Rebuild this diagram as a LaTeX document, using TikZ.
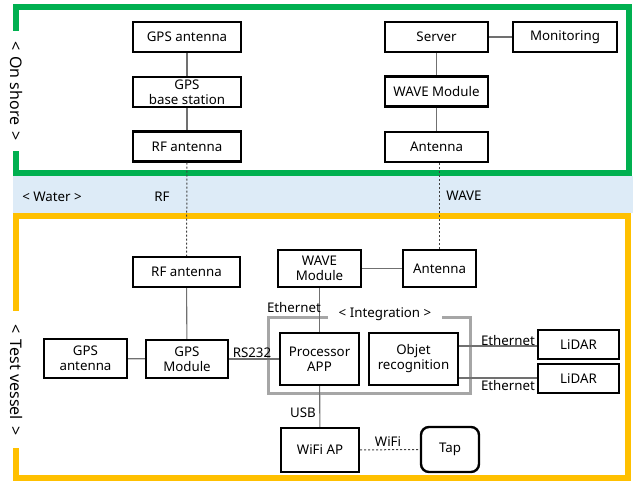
\documentclass[tikz,border=0pt]{standalone}
\usepackage{fontspec}
\setmainfont{Noto Sans}
\usetikzlibrary{positioning}
\definecolor{shoregreen}{HTML}{00B050}
\definecolor{vesselyellow}{HTML}{FFC000}
\definecolor{waterblue}{HTML}{DDEBF7}
\definecolor{linkgray}{HTML}{707070}
\definecolor{intgray}{HTML}{A6A6A6}
\tikzset{
  box/.style={draw=black, line width=2.4pt, fill=white, align=center, inner sep=0pt,
    font=\fontsize{13.3}{15}\selectfont},
  link/.style={draw=linkgray, line width=1.1pt},
  radio/.style={draw=black!75, line width=1pt, dash pattern=on 2pt off 2pt},
  lbl/.style={font=\fontsize{13.3}{15}\selectfont, inner sep=1pt},
  sidelbl/.style={font=\fontsize{16}{18}\selectfont, inner sep=1pt, rotate=-90},
}
\begin{document}
\begin{tikzpicture}[x=1pt,y=-1pt]
\useasboundingbox (0,0) rectangle (633,481);
% water band
\fill[waterblue] (13,176) rectangle (633,213);
% on shore frame
\draw[shoregreen, line width=6pt] (16,31) -- (16,7) -- (629,7) -- (629,173) -- (16,173) -- (16,151);
\node[sidelbl] (shore) at (16,91) {<\hspace{6pt}On shore\hspace{6pt}>};
% test vessel frame
\draw[vesselyellow, line width=6pt] (16,311) -- (16,216.5) -- (628,216.5) -- (628,478) -- (16,478) -- (16,448);
\node[sidelbl] (vessel) at (16,380) {<\hspace{6pt}Test vessel\hspace{6pt}>};
\node[lbl] (water) at (52,197) {< Water >};
% integration frame
\draw[intgray, line width=3pt] (328,318) -- (268,318) -- (268,394) -- (470,394) -- (470,318) -- (442,318);
\node[lbl] (integ) at (385,314) {< Integration >};

% on shore nodes
\node[box, minimum width=108pt, minimum height=30pt] (gpsant) at (187,37) {GPS antenna};
\node[box, minimum width=108pt, minimum height=30pt] (gpsbase) at (187,92) {GPS\\base station};
\node[box, minimum width=108pt, minimum height=30pt] (rfant) at (187,146.5) {RF antenna};
\node[box, minimum width=103pt, minimum height=30pt] (server) at (436.5,37) {Server};
\node[box, minimum width=104pt, minimum height=30pt] (monitor) at (565,37) {Monitoring};
\node[box, minimum width=103pt, minimum height=30pt] (wavemod) at (436.5,91.5) {WAVE Module};
\node[box, minimum width=103pt, minimum height=30pt] (antenna) at (436.5,147) {Antenna};

% vessel nodes
\node[box, minimum width=107pt, minimum height=30pt] (vrfant) at (186.5,272) {RF antenna};
\node[box, minimum width=83pt, minimum height=39pt] (vgpsant) at (85.5,358.5) {GPS\\antenna};
\node[box, minimum width=82pt, minimum height=38pt] (gpsmod) at (187,359) {GPS\\Module};
\node[box, minimum width=83pt, minimum height=37pt] (vwave) at (319.5,268.5) {WAVE\\Module};
\node[box, minimum width=73pt, minimum height=37pt] (vant) at (439.5,268.5) {Antenna};
\node[box, minimum width=79pt, minimum height=52pt] (proc) at (319.5,359) {Processor\\APP};
\node[box, minimum width=89pt, minimum height=52pt] (objet) at (413.5,359) {Objet\\recognition};
\node[box, minimum width=81pt, minimum height=29pt] (lidar1) at (578.5,344.5) {LiDAR};
\node[box, minimum width=81pt, minimum height=29pt] (lidar2) at (578.5,378.5) {LiDAR};
\node[box, minimum width=78pt, minimum height=44pt] (wifiap) at (320,450) {WiFi AP};
\node[box, minimum width=58pt, minimum height=45pt, rounded corners=8pt] (tap) at (450,449.5) {Tap};

% on shore links
\draw[link] (gpsant) -- (gpsbase);
\draw[link] (gpsbase) -- (rfant);
\draw[link] (server) -- (monitor);
\draw[link] (server) -- (wavemod);
\draw[link] (wavemod) -- (antenna);

% radio links
\draw[radio] (rfant) -- (vrfant);
\draw[radio] (antenna.south -| vant.north) -- (vant.north);
\node[lbl] (rflbl) at (162,197) {RF};
\node[lbl] (wavelbl) at (464,196) {WAVE};

% vessel links
\draw[link] (vrfant) -- (gpsmod);
\draw[link] (vgpsant) -- (gpsmod);
\draw[link] (gpsmod) -- (proc);
\draw[link] (vwave) -- (vant);
\draw[link] (vwave.south -| proc.north) -- (proc.north);
\draw[link] (proc) -- (wifiap);
\draw[link] (objet.east |- 0,346) -- (lidar1.west |- 0,346);
\draw[link] (objet.east |- 0,378) -- (lidar2.west |- 0,378);
\draw[radio] (wifiap) -- (tap);

\node[lbl] (rs232) at (252,353) {RS232};
\node[lbl] (eth0) at (294,308) {Ethernet};
\node[lbl] (usb) at (303,413) {USB};
\node[lbl] (eth1) at (508,341) {Ethernet};
\node[lbl] (eth2) at (508,386) {Ethernet};
\node[lbl] (wifil) at (388,442) {WiFi};
\end{tikzpicture}
\end{document}
